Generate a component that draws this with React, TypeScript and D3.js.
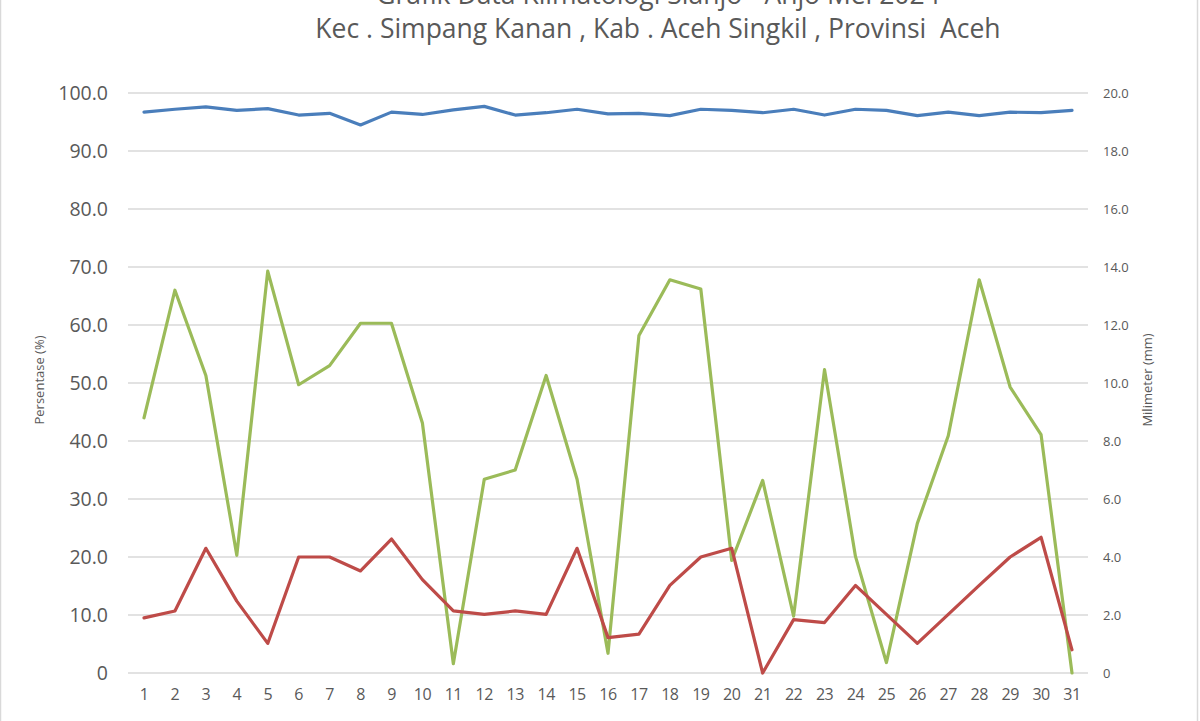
import React from "react";
import * as d3 from "d3";

const days = d3.range(1, 32);
const humidity = [96.7, 97.2, 97.6, 97.0, 97.3, 96.2, 96.5, 94.5, 96.7, 96.3, 97.1, 97.7, 96.2, 96.6, 97.2, 96.4, 96.5, 96.1, 97.2, 97.0, 96.6, 97.2, 96.2, 97.2, 97.0, 96.1, 96.7, 96.1, 96.7, 96.6, 97.0];
const rainfallMm = [8.8, 13.2, 10.26, 4.06, 13.86, 9.94, 10.6, 12.06, 12.06, 8.62, 0.32, 6.68, 7.0, 10.26, 6.68, 0.68, 11.64, 13.56, 13.24, 3.88, 6.64, 1.96, 10.46, 4.02, 0.36, 5.16, 8.18, 13.56, 9.86, 8.22, 0];
const redPct = [9.5, 10.7, 21.5, 12.4, 5.1, 20.0, 20.0, 17.6, 23.1, 16.1, 10.7, 10.1, 10.7, 10.1, 21.5, 6.1, 6.7, 15.1, 20.0, 21.5, 0, 9.2, 8.7, 15.1, 10.1, 5.1, 10.1, 15.1, 20.0, 23.4, 4.0];
const leftTicks = [0, 10, 20, 30, 40, 50, 60, 70, 80, 90, 100];
const rightTicks = [0, 2, 4, 6, 8, 10, 12, 14, 16, 18, 20];
const titleLines = ["Grafik Data Klimatologi Sianjo - Anjo Mei 2024", "Kec . Simpang Kanan , Kab . Aceh Singkil , Provinsi  Aceh"];

const W = 1200, H = 721;
const FONT = "'Open Sans', 'Liberation Sans', sans-serif";

export default function App() {
  const x = d3.scaleLinear().domain([1, 31]).range([144, 1072]);
  const yL = d3.scaleLinear().domain([0, 100]).range([673, 93]);
  const yR = d3.scaleLinear().domain([0, 20]).range([673, 93]);

  const lineL = d3.line<number>().x((_, i) => x(days[i])).y((v) => yL(v));
  const lineR = d3.line<number>().x((_, i) => x(days[i])).y((v) => yR(v));

  return (
    <svg width={W} height={H} style={{ position: "absolute", left: 0, top: 0, background: "#fff" }}>
      <rect x={0.5} y={-2} width={W - 3} height={H + 4} fill="#fff" stroke="#d9d9d9" strokeWidth={1.5} />
      {titleLines.map((t, i) => (
        <text key={i} x={658} y={4 + i * 34} textAnchor="middle" fontFamily={FONT} fontSize={26.5} fill="#595959" style={{ whiteSpace: "pre" }}>
          {t}
        </text>
      ))}
      {leftTicks.map((t) => (
        <line key={"g" + t} x1={128} x2={1088} y1={yL(t)} y2={yL(t)} stroke="#d9d9d9" strokeWidth={1.3} />
      ))}
      {leftTicks.map((t) => (
        <text key={"l" + t} x={108} y={yL(t)} dy="0.35em" textAnchor="end" fontFamily={FONT} fontSize={19.5} fill="#595959">
          {t === 0 ? "0" : d3.format(".1f")(t)}
        </text>
      ))}
      {rightTicks.map((t) => (
        <text key={"r" + t} x={1103} y={yR(t)} dy="0.35em" textAnchor="start" fontFamily={FONT} fontSize={13} fill="#595959">
          {t === 0 ? "0" : d3.format(".1f")(t)}
        </text>
      ))}
      {days.map((d) => (
        <text key={"x" + d} x={x(d)} y={700} textAnchor="middle" fontFamily={FONT} fontSize={16} fill="#595959" style={{ letterSpacing: "-0.5px" }}>
          {d}
        </text>
      ))}
      <text transform="translate(44,380) rotate(-90)" textAnchor="middle" fontFamily={FONT} fontSize={13} fill="#595959">
        Persentase (%)
      </text>
      <text transform="translate(1152,380) rotate(-90)" textAnchor="middle" fontFamily={FONT} fontSize={13} fill="#595959">
        Milimeter (mm)
      </text>
      <path d={lineL(humidity) || ""} fill="none" stroke="#4a7ebb" strokeWidth={3.2} strokeLinejoin="round" strokeLinecap="round" />
      <path d={lineR(rainfallMm) || ""} fill="none" stroke="#9bbb59" strokeWidth={3.2} strokeLinejoin="round" strokeLinecap="round" />
      <path d={lineL(redPct) || ""} fill="none" stroke="#be4b48" strokeWidth={3.2} strokeLinejoin="round" strokeLinecap="round" />
    </svg>
  );
}
